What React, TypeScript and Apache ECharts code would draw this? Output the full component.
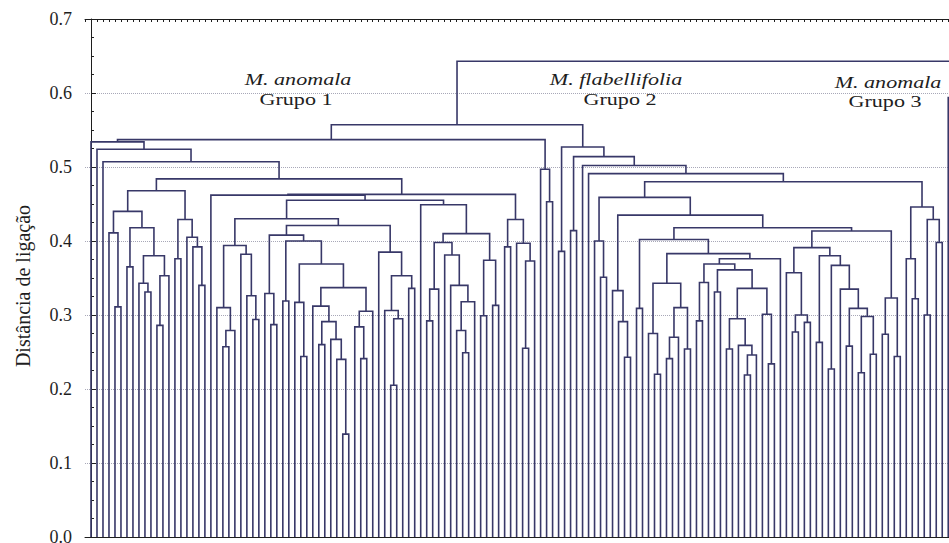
import React, { useEffect, useRef } from "react";
import * as echarts from "echarts";

// ---------------- data ----------------
// Tree notation: x = leaf, (a,b)h = merge of a and b at linkage distance h
const yTicks = [0, 0.1, 0.2, 0.3, 0.4, 0.5, 0.6, 0.7];
const yAxisTitle = "Distância de ligação";
const groupSpecies = ["M. anomala", "M. flabellifolia", "M. anomala"];
const groupNames = ["Grupo 1", "Grupo 2", "Grupo 3"];

// Grupo 1 sub-clusters
const g1A = "(((x,(x,x).311).411,((x,x).365,((x,(x,x).331).343,((x,x).286,x).353).38).418).44,((x,x).376,(x,(x,(x,x).34).392).405).429).468";
const g1B = "((x,((x,x).257,x).279).31,(x,(x,(x,x).294).326).382).394";
const g1C = "((x,(x,x).287).329,((x,x).319,((x,(x,x).244).317,((x,((x,x).26,(x,(x,(x,x).139).24).267).291).312,((x,(x,x).241).284,x).305).337).369).4).408";
const g1D = "(x,((x,((x,x).205,x).295).306,(x,x).336).353).385";
const g1E = "(x,((((x,x).292,x).335,(x,(x,((x,(x,x).249).279,x).318).34).381).398,((x,x).299,(x,x).313).374).41).449";
const g1F = "((x,x).392,(x,((x,x).255,x).373).397).429";
const g1G = "(x,(x,x).453).497";
const heightsG1 = { cd: 0.421, bcd: 0.43, bcde: 0.455, xbcde: 0.462, f: 0.463, a_f: 0.484, c3: 0.507, c2: 0.524, c1: 0.534, top: 0.537 };

// Grupo 2 sub-clusters
const g2A = "((x,(x,x).22).275,(((x,x).241,x).27,(x,x).254).31).343";
const g2B = "((((x,x).292,x).344,((x,x).331,(((x,x).254,(x,((x,x).219,x).246).259).295,(x,(x,x).234).301).336).361).369,x).376";
const g2C = "(((x,((x,x).277,(x,x).29).3).357,((x,x).263,((x,x).227,(x,((x,x).258,((x,x).222,(x,x).247).298).309).335).367).38).391,((x,x).274,(x,x).244).323).4135";
const g2D = "(x,(x,(x,x).243).291).333";
const g2E = "(x,(x,x).351).4";
const g2F = "((x,(x,x).322).376,((x,x).3,(x,x).398).429).446";
const heightsG2 = { ab: 0.383, pairAB: 0.309, kab: 0.402, abc: 0.418, dabc: 0.435, e_: 0.459, ef: 0.48, l1: 0.491, l2: 0.502, p2: 0.414, b2: 0.514, p1: 0.386, top: 0.527 };

// Grupo 3 (only its first member lies inside the picture)
const g3 = "(x,x).594";
const rootHeights = { g12: 0.557, all: 0.643 };

// ---------------- tree assembly ----------------
const h1 = heightsG1;
const group1 =
  "((x,(x,(x,(" + g1A + ",((x,((" + g1B + ",(" + g1C + "," + g1D + ")" + h1.cd + ")" + h1.bcd + "," + g1E + ")" +
  h1.bcde + ")" + h1.xbcde + "," + g1F + ")" + h1.f + ")" + h1.a_f + ")" + h1.c3 + ")" + h1.c2 + ")" + h1.c1 + "," + g1G + ")" + h1.top;
const h2 = heightsG2;
const group2 =
  "((x,x)" + h2.p1 + ",((x,x)" + h2.p2 + ",(x,(x,((" + g2E + ",(" + g2D + ",(((x,x)" + h2.pairAB + ",(" + g2A + "," + g2B + ")" + h2.ab + ")" + h2.kab +
  "," + g2C + ")" + h2.abc + ")" + h2.dabc + ")" + h2.e_ + "," + g2F + ")" + h2.ef + ")" + h2.l1 + ")" + h2.l2 + ")" + h2.b2 + ")" + h2.top;
const fullTree = "((" + group1 + "," + group2 + ")" + rootHeights.g12 + "," + g3 + ")" + rootHeights.all;

function layoutTree(tree: string) {
  let pos = 0;
  let leaf = 0;
  const segs: number[][] = [];
  const num = () => {
    const s = pos;
    while (pos < tree.length && /[0-9.]/.test(tree[pos])) pos++;
    return parseFloat(tree.slice(s, pos));
  };
  const node = (): { x: number; h: number } => {
    if (tree[pos] === "x") {
      pos++;
      return { x: leaf++, h: 0 };
    }
    pos++; // (
    const a = node();
    pos++; // ,
    const b = node();
    pos++; // )
    const h = num();
    segs.push([a.x, a.h, b.x, b.h, h]);
    return { x: (a.x + b.x) / 2, h };
  };
  node();
  return { segs, leaves: leaf };
}

const LINE = "#383868";
const INK = "#1e1e1e";
const SERIF = "'Liberation Serif', 'Times New Roman', serif";

export default function App() {
  const ref = useRef<HTMLDivElement>(null);
  useEffect(() => {
    if (!ref.current) return;
    const chart = echarts.init(ref.current, undefined, { renderer: "svg" });
    const { segs } = layoutTree(fullTree);
    const labelPos = [
      [298, 79, 296, 99],
      [616, 79, 620, 99],
      [888, 82, 885, 101],
    ];
    const graphic: any[] = [];
    groupSpecies.forEach((sp, i) => {
      const p = labelPos[i];
      graphic.push({
        type: "text",
        x: p[0],
        y: p[1],
        scaleX: 1.3,
        z: 10,
        style: { text: sp, fontFamily: SERIF, fontSize: 17, fontStyle: "italic", fill: INK, align: "center", verticalAlign: "middle", textAlign: "center", textVerticalAlign: "middle" },
      });
      graphic.push({
        type: "text",
        x: p[2],
        y: p[3],
        scaleX: 1.3,
        z: 10,
        style: { text: groupNames[i], fontFamily: SERIF, fontSize: 17, fill: INK, align: "center", verticalAlign: "middle", textAlign: "center", textVerticalAlign: "middle" },
      });
    });

    const option: any = {
      animation: false,
      backgroundColor: "#ffffff",
      grid: { left: 85, top: 19, width: 905.2, height: 518, outerBoundsMode: "none", containLabel: false },
      xAxis: [
        {
          type: "value",
          min: -1,
          max: 150,
          position: "bottom",
          axisLine: { show: true, lineStyle: { color: INK, width: 1 } },
          axisTick: { show: false },
          axisLabel: { show: false },
          splitLine: { show: false },
        },
        {
          type: "value",
          min: -1,
          max: 150,
          interval: 1,
          position: "top",
          axisLine: { show: true, lineStyle: { color: INK, width: 1 } },
          axisTick: { show: true, inside: true, length: 3, lineStyle: { color: INK } },
          axisLabel: { show: false },
          splitLine: { show: false },
        },
      ],
      yAxis: {
        type: "value",
        min: yTicks[0],
        max: yTicks[yTicks.length - 1],
        interval: 0.1,
        name: yAxisTitle,
        nameLocation: "middle",
        nameGap: 52,
        nameRotate: 90,
        nameTextStyle: { fontFamily: SERIF, fontSize: 20, color: INK, padding: [0, 16, 0, 0] },
        axisLine: { show: true, lineStyle: { color: INK, width: 1 } },
        axisTick: { show: true, inside: true, length: 5, lineStyle: { color: INK } },
        minorTick: { show: true, splitNumber: 4, length: 3, lineStyle: { color: INK } },
        axisLabel: { formatter: (v: number) => v.toFixed(1), fontFamily: SERIF, fontSize: 18, color: INK, margin: 13 },
        splitLine: { show: true, lineStyle: { type: "dotted", color: "#a8a8b8", width: 1 } },
      },
      series: [
        {
          type: "custom",
          xAxisIndex: 0,
          yAxisIndex: 0,
          clip: false,
          data: segs,
          encode: { x: [0, 2], y: [1, 3, 4] },
          renderItem: (_params: any, api: any) => {
            const xl = api.value(0), hl = api.value(1), xr = api.value(2), hr = api.value(3), h = api.value(4);
            const pts = [api.coord([xl, hl]), api.coord([xl, h]), api.coord([xr, h]), api.coord([xr, hr])];
            return {
              type: "polyline",
              shape: { points: pts },
              style: { stroke: LINE, fill: "none", lineWidth: 1.6 },
            };
          },
        },
      ],
      graphic,
    };
    chart.setOption(option);
    return () => chart.dispose();
  }, []);
  return <div ref={ref} style={{ position: "fixed", left: 0, top: 0, width: 949, height: 543 }} />;
}
